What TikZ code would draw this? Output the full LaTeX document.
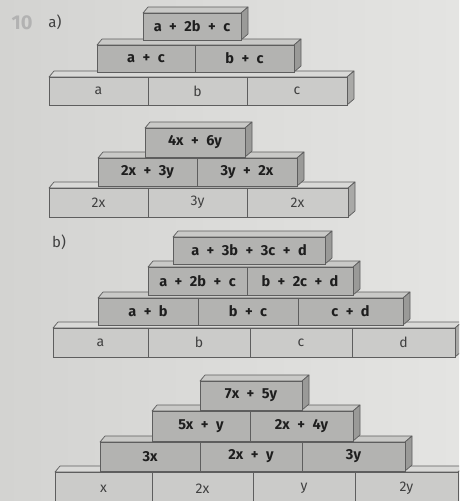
\documentclass[tikz,border=0pt]{standalone}
\usepackage{fontspec}
\setmainfont{Fira Sans}
\definecolor{bgl}{HTML}{D3D3D1}
\definecolor{bgr}{HTML}{E4E4E2}
\definecolor{edge}{HTML}{5E5E5E}
\definecolor{lofront}{HTML}{CBCBC9}
\definecolor{lotopc}{HTML}{D9D9D7}
\definecolor{losidec}{HTML}{A9A9A7}
\definecolor{upfront}{HTML}{B3B3B1}
\definecolor{uptopc}{HTML}{C9C9C7}
\definecolor{upsidec}{HTML}{9A9A98}
\definecolor{txtdark}{HTML}{1E1E1E}
\definecolor{txtlight}{HTML}{404040}
\newcommand{\pp}{\hspace{7.5pt}+\hspace{7.5pt}}
\tikzset{
  lowb/.style={fill=lofront, draw=edge, line width=0.7pt, inner sep=0pt, outer sep=0pt,
    font=\fontsize{14}{16}\selectfont, text=txtlight},
  upb/.style={fill=upfront, draw=edge, line width=0.7pt, inner sep=0pt, outer sep=0pt,
    font=\fontsize{14.5}{16}\selectfont\bfseries, text=txtdark},
  lowbtop/.style={fill=lotopc, draw=edge, line width=0.7pt, line join=round},
  lowbside/.style={fill=losidec, draw=edge, line width=0.7pt, line join=round},
  upbtop/.style={fill=uptopc, draw=edge, line width=0.7pt, line join=round},
  upbside/.style={fill=upsidec, draw=edge, line width=0.7pt, line join=round},
  lbl/.style={inner sep=0pt, font=\fontsize{15}{17}\selectfont, text=txtlight}
}
% slab: x0, x1, ytop, ybottom, kind
\newcommand{\slab}[5]{%
  \filldraw[#5top] (#1,#3) -- (#1+5,#3-6) -- (#2+7,#3-6) -- (#2,#3) -- cycle;
  \filldraw[#5side] (#2,#3) -- (#2+7,#3-6) -- (#2+7,#4-6) -- (#2,#4) -- cycle;}
% brick: name, x0, x1, ytop, ybottom, kind, text
\newcommand{\bk}[7]{%
  \node[#6, anchor=north west, minimum width={(#3-#2)*1pt}, minimum height={(#5-#4)*1pt}] (#1) at (#2,#4) {#7};}
\begin{document}
\begin{tikzpicture}[x=1pt,y=-1pt]
\useasboundingbox (0,0) rectangle (459,501);
\clip (0,0) rectangle (459,501);
\shade[left color=bgl, right color=bgr] (0,0) rectangle (459,501);

% labels
\node[inner sep=0pt, font=\fontsize{20}{22}\selectfont\bfseries, text=black!30] (n10) at (22,23) {10};
\node[lbl] (la) at (55,22) {a)};
\node[lbl] (lb) at (59,242) {b)};

% ---------- a) first pyramid ----------
\slab{49}{347}{77}{105}{lowb}
\bk{aa1}{49}{148}{77}{105}{lowb}{a}
\bk{aa2}{148}{247}{77}{105}{lowb}{b}
\bk{aa3}{247}{347}{77}{105}{lowb}{c}
\slab{97}{294}{45}{72}{upb}
\bk{ab1}{97}{195}{45}{72}{upb}{a\pp c}
\bk{ab2}{195}{294}{45}{72}{upb}{b\pp c}
\slab{143}{241}{13}{40}{upb}
\bk{ac1}{143}{241}{13}{40}{upb}{a\pp 2b\pp c}

% ---------- a) second pyramid ----------
\slab{49}{348}{188}{217}{lowb}
\bk{ba1}{49}{148}{188}{217}{lowb}{2x}
\bk{ba2}{148}{247}{188}{217}{lowb}{3y}
\bk{ba3}{247}{348}{188}{217}{lowb}{2x}
\slab{98}{297}{158}{186}{upb}
\bk{bb1}{98}{197}{158}{186}{upb}{2x\pp 3y}
\bk{bb2}{197}{297}{158}{186}{upb}{3y\pp 2x}
\slab{145}{245}{128}{157}{upb}
\bk{bc1}{145}{245}{128}{157}{upb}{4x\pp 6y}

% ---------- b) first pyramid ----------
\slab{53}{455}{328}{357}{lowb}
\bk{ca1}{53}{148}{328}{357}{lowb}{a}
\bk{ca2}{148}{250}{328}{357}{lowb}{b}
\bk{ca3}{250}{352}{328}{357}{lowb}{c}
\bk{ca4}{352}{455}{328}{357}{lowb}{d}
\slab{98}{403}{298}{325}{upb}
\bk{cb1}{98}{198}{298}{325}{upb}{a\pp b}
\bk{cb2}{198}{298}{298}{325}{upb}{b\pp c}
\bk{cb3}{298}{403}{298}{325}{upb}{c\pp d}
\slab{148}{353}{267}{295}{upb}
\bk{cc1}{148}{247}{267}{295}{upb}{a\pp 2b\pp c}
\bk{cc2}{247}{353}{267}{295}{upb}{b\pp 2c\pp d}
\slab{173}{325}{237}{264}{upb}
\bk{cd1}{173}{325}{237}{264}{upb}{a\pp 3b\pp 3c\pp d}

% ---------- b) second pyramid ----------
\slab{55}{458}{472}{505}{lowb}
\bk{da1}{55}{152}{472}{505}{lowb}{x}
\bk{da2}{152}{253}{472}{505}{lowb}{2x}
\bk{da3}{253}{355}{472}{505}{lowb}{y}
\bk{da4}{355}{458}{472}{505}{lowb}{2y}
\slab{100}{405}{442}{471}{upb}
\bk{db1}{100}{200}{442}{471}{upb}{3x}
\bk{db2}{200}{302}{442}{471}{upb}{2x\pp y}
\bk{db3}{302}{405}{442}{471}{upb}{3y}
\slab{152}{353}{411}{441}{upb}
\bk{dc1}{152}{250}{411}{441}{upb}{5x\pp y}
\bk{dc2}{250}{353}{411}{441}{upb}{2x\pp 4y}
\slab{200}{302}{381}{410}{upb}
\bk{dd1}{200}{302}{381}{410}{upb}{7x\pp 5y}
\end{tikzpicture}
\end{document}
